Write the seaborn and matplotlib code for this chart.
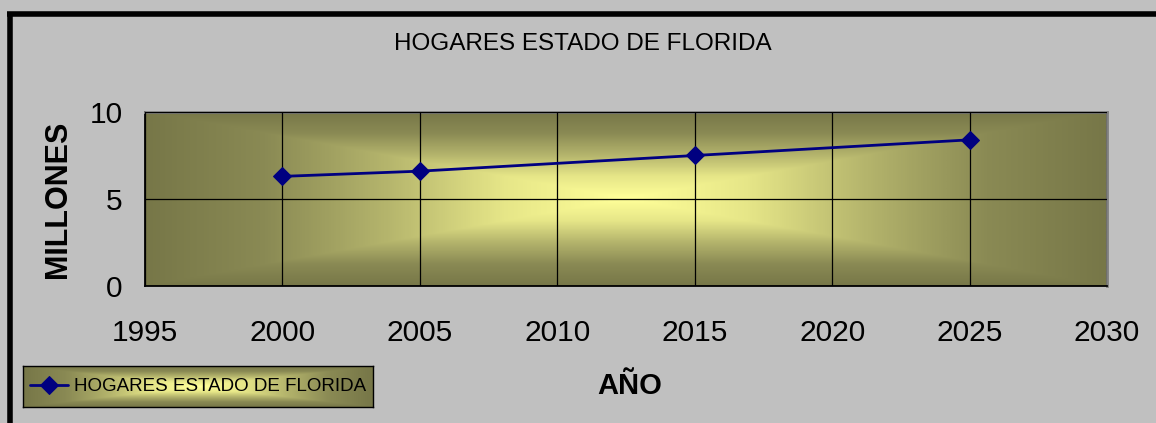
import numpy as np
import pandas as pd
import matplotlib
matplotlib.use('Agg')
import matplotlib.pyplot as plt
import seaborn as sns
from matplotlib.colors import LinearSegmentedColormap

# data
years = [2000, 2005, 2015, 2025]
hogares = [6.3, 6.6, 7.5, 8.4]
x_ticks = [1995, 2000, 2005, 2010, 2015, 2020, 2025, 2030]
y_ticks = [0, 5, 10]
series_name = 'HOGARES ESTADO DE FLORIDA'

df = pd.DataFrame({'year': years, 'value': hogares})

sns.set_style('white')
plt.rcParams['font.family'] = ['Liberation Sans', 'DejaVu Sans']
for k in ['text.color', 'axes.labelcolor', 'xtick.color', 'ytick.color']:
    plt.rcParams[k] = 'black'

BG = '#C0C0C0'
olive = LinearSegmentedColormap.from_list('olive', ['#FFFF99', '#E6E688', '#B4B46C', '#8A8A54', '#777748'])


def rect_gradient(nx, ny):
    # "from centre" fill: rectangular distance from the middle
    gx = np.abs(np.linspace(-1, 1, nx))
    gy = np.abs(np.linspace(-1, 1, ny))
    return np.maximum(gx[None, :], gy[:, None])


fig = plt.figure(figsize=(11.56, 4.23), dpi=100)
fig.patch.set_facecolor(BG)

# thick black frame on top and left
fig.add_artist(plt.Line2D([7 / 1156, 1], [1 - 14 / 423, 1 - 14 / 423], color='black', lw=4,
                          solid_capstyle='butt', transform=fig.transFigure))
fig.add_artist(plt.Line2D([10 / 1156, 10 / 1156], [0, 1 - 12 / 423], color='black', lw=4,
                          solid_capstyle='butt', transform=fig.transFigure))

ax = fig.add_axes([145 / 1156, 1 - 286 / 423, (1107 - 145) / 1156, (286 - 112) / 423])
ax.imshow(rect_gradient(600, 200), cmap=olive, extent=[0, 1, 0, 1], transform=ax.transAxes,
          aspect='auto', zorder=0, interpolation='bilinear')

sns.lineplot(data=df, x='year', y='value', ax=ax, color='#000080', lw=2, marker='D',
             markersize=9, markeredgecolor='#000080', label=series_name, zorder=3)

ax.set_xlim(1995, 2030)
ax.set_ylim(0, 10)
ax.set_xticks(x_ticks)
ax.set_yticks(y_ticks)
ax.grid(True, color='black', lw=0.9, zorder=1)
ax.set_axisbelow(False)
ax.tick_params(axis='both', direction='out', length=10, width=1.2, color='#202020',
               labelsize=21.5, pad=6)
ax.tick_params(axis='x', pad=14)
for s in ['left', 'bottom']:
    ax.spines[s].set_color('black')
    ax.spines[s].set_linewidth(1.3)
for s in ['top', 'right']:
    ax.spines[s].set_color('#808080')
    ax.spines[s].set_linewidth(2)
ax.set_xlabel('')
ax.set_ylabel('MILLONES', fontsize=22, fontweight='bold', labelpad=12)
ax.get_legend().remove()

fig.text(583 / 1156, 1 - 44 / 423, series_name, fontsize=17.5, ha='center', va='center')
fig.text(630 / 1156, 1 - 386 / 423, 'AÑO', fontsize=21, fontweight='bold', ha='center', va='center')

# legend box with its own gradient
lax = fig.add_axes([23 / 1156, 1 - 407 / 423, (373 - 23) / 1156, (407 - 366) / 423])
lax.imshow(rect_gradient(300, 60), cmap=olive, extent=[0, 1, 0, 1], aspect='auto', interpolation='bilinear')
lax.set_xlim(0, 1)
lax.set_ylim(0, 1)
lax.set_xticks([])
lax.set_yticks([])
for s in lax.spines.values():
    s.set_color('black')
    s.set_linewidth(1)
handles, labels = ax.get_legend_handles_labels()
lax.legend(handles, labels, loc='center', frameon=False, handlelength=2.0, handletextpad=0.3,
           borderpad=0, borderaxespad=0, prop={'size': 13.5})

fig.savefig('out.png', dpi=100, facecolor=BG)
